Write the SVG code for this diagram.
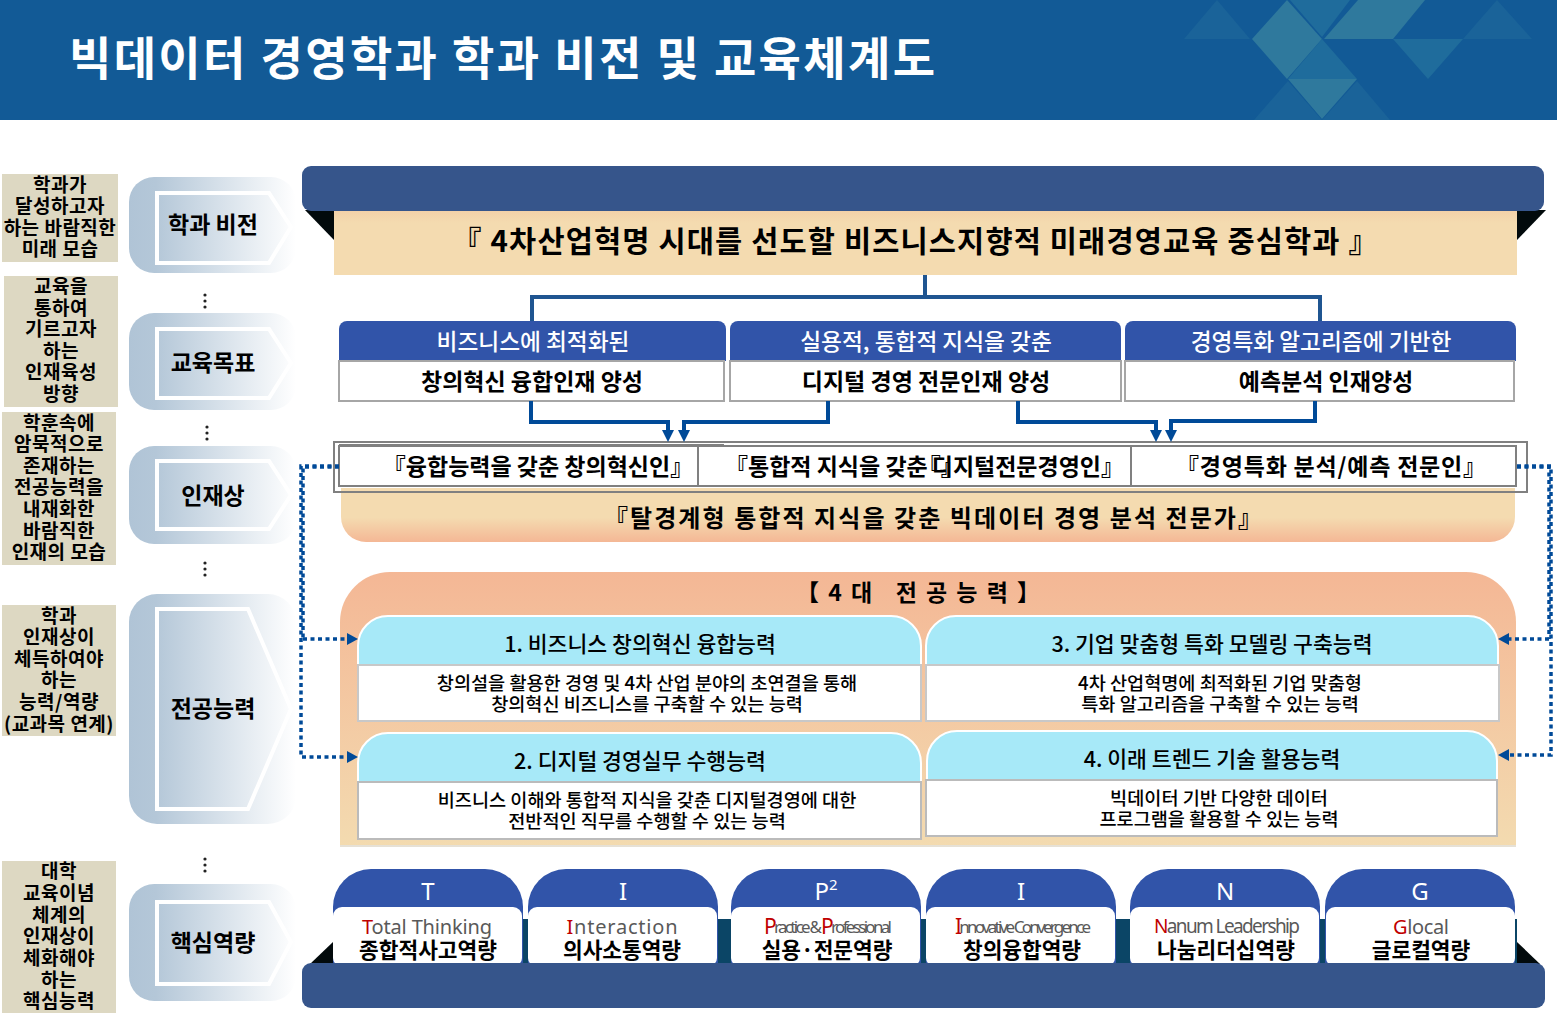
<svg xmlns="http://www.w3.org/2000/svg" width="1557" height="1027" viewBox="0 0 1557 1027">
<style>
text{font-family:"Noto Sans CJK KR","Noto Sans",sans-serif;text-anchor:middle;dominant-baseline:central;fill:#000}
.lb{font-size:19px;font-weight:600;letter-spacing:.5px}
.ch{font-size:23px;font-weight:600}
.hd{font-size:22.7px;font-weight:500;fill:#fff}
.sb{font-size:23px;font-weight:600}
.md{font-size:23px;font-weight:600}
.ct{font-size:21.6px;font-weight:500}
.bd{font-size:18.6px;font-weight:500}
.tl{font-size:24px;fill:#fff;font-family:"Noto Sans",sans-serif}
.en{font-size:20px;fill:#595959;font-family:"Noto Sans",sans-serif}
.en tspan{fill:#c00000}
.ti{font-size:17px}
.ti tspan{font-size:21px}
.ko{font-size:21.4px;font-weight:600}
.tan{fill:#ddd8c2}
.chev{fill:url(#gc)}
.pent{fill:none;stroke:#fff;stroke-width:4}
.tree{fill:none;stroke:#1f5591;stroke-width:4}
.solid{fill:none;stroke:#004a98;stroke-width:4}
.dot{fill:none;stroke:#004a98;stroke-width:3.5;stroke-dasharray:4 3.5}
.bar{fill:#36558b}
.blue{fill:#3154a9}
.box{fill:#fff;stroke:#a6a6a6;stroke-width:2}
.cyan{fill:#a7e9f8;stroke:#fff;stroke-width:2}
.wbox{fill:#fff;stroke:#c8c8c8;stroke-width:2}
.gbox{fill:#fff;stroke:#808080;stroke-width:2}
.arr{fill:#004a98}
.dots{fill:#222}
</style>
<defs>
<linearGradient id="gc"><stop offset="0" stop-color="#b0c4d6"/><stop offset=".16" stop-color="#b4c7d8"/><stop offset="1" stop-color="#fff"/></linearGradient>
<linearGradient id="gp" x1="0" y1="0" x2="0" y2="1"><stop offset="0" stop-color="#f4b795"/><stop offset="1" stop-color="#f3dbb0"/></linearGradient>
<linearGradient id="gt" x1="0" y1="0" x2="0" y2="1"><stop offset="0" stop-color="#f4dbb0"/><stop offset=".55" stop-color="#f4dbb0"/><stop offset="1" stop-color="#f4b795"/></linearGradient>
<linearGradient id="gv" x1="0" y1="0" x2="0" y2="1"><stop offset="0" stop-color="#f3d0a8"/><stop offset=".2" stop-color="#f4dbb0"/><stop offset="1" stop-color="#f4dbb0"/></linearGradient>
</defs>

<g id="header">
<rect width="1557" height="120" fill="#125a96"/>
<polygon points="1217,0 1184,39 1250,39" fill="#1a6399"/>
<polygon points="1497,0 1463,39 1532,39" fill="#1a6399"/>
<polygon points="1287,0 1252,39 1287,79 1322,39" fill="#2f799d"/>
<polygon points="1290,0 1350,0 1322,37" fill="#1f6c9c"/>
<polygon points="1358,0 1425,0 1393,39 1324,39" fill="#2f799d"/>
<polygon points="1393,39 1463,39 1428,79" fill="#1f6c9c"/>
<polygon points="1322,39 1357,79 1288,79" fill="#1f6c9c"/>
<polygon points="1288,79 1357,79 1322,119" fill="#2f799d"/>
<polygon points="1288,81 1254,120 1322,120" fill="#1a6399"/>
<polygon points="1357,81 1390,120 1322,120" fill="#1a6399"/>
<text x="502" y="54.5" font-size="46" font-weight="700" style="fill:#fff" textLength="866">빅데이터 경영학과 학과 비전 및 교육체계도</text>
</g>

<g id="label-1"><rect class="tan" x="2" y="174" width="116" height="88"/>
<text class="lb" x="60" y="183">학과가</text><text class="lb" x="60" y="204">달성하고자</text><text class="lb" x="60" y="226">하는 바람직한</text><text class="lb" x="60" y="247">미래 모습</text></g>
<g id="label-2"><rect class="tan" x="4" y="276" width="114" height="131"/>
<text class="lb" x="61" y="284">교육을</text><text class="lb" x="61" y="306">통하여</text><text class="lb" x="61" y="327">기르고자</text><text class="lb" x="61" y="349">하는</text><text class="lb" x="61" y="370">인재육성</text><text class="lb" x="61" y="392">방향</text></g>
<g id="label-3"><rect class="tan" x="2" y="412" width="114" height="153"/>
<text class="lb" x="59" y="421">학훈속에</text><text class="lb" x="59" y="442">암묵적으로</text><text class="lb" x="59" y="464">존재하는</text><text class="lb" x="59" y="485">전공능력을</text><text class="lb" x="59" y="507">내재화한</text><text class="lb" x="59" y="529">바람직한</text><text class="lb" x="59" y="550">인재의 모습</text></g>
<g id="label-4"><rect class="tan" x="2" y="605" width="114" height="131"/>
<text class="lb" x="59" y="614">학과</text><text class="lb" x="59" y="635">인재상이</text><text class="lb" x="59" y="657">체득하여야</text><text class="lb" x="59" y="678">하는</text><text class="lb" x="59" y="700">능력/역량</text><text class="lb" x="59" y="722">(교과목 연계)</text></g>
<g id="label-5"><rect class="tan" x="2" y="861" width="114" height="152"/>
<text class="lb" x="59" y="869">대학</text><text class="lb" x="59" y="891">교육이념</text><text class="lb" x="59" y="913">체계의</text><text class="lb" x="59" y="934">인재상이</text><text class="lb" x="59" y="956">체화해야</text><text class="lb" x="59" y="978">하는</text><text class="lb" x="59" y="999">핵심능력</text></g>

<g id="step-vision"><rect class="chev" x="129" y="177" width="167" height="96" rx="25"/><polygon class="pent" points="157,193 269,193 291,227 269,263 157,263"/><text class="ch" x="213" y="223">학과 비전</text></g>
<g id="step-goal"><rect class="chev" x="129" y="313" width="167" height="97" rx="25"/><polygon class="pent" points="157,329 269,329 291,363 269,398 157,398"/><text class="ch" x="213" y="361">교육목표</text></g>
<g id="step-talent"><rect class="chev" x="129" y="446" width="167" height="98" rx="25"/><polygon class="pent" points="157,461 269,461 291,495 269,529 157,529"/><text class="ch" x="213" y="494">인재상</text></g>
<g id="step-major"><rect class="chev" x="129" y="594" width="167" height="230" rx="28"/><polygon class="pent" points="157,609 248,609 291,709 248,809 157,809"/><text class="ch" x="213" y="707">전공능력</text></g>
<g id="step-core"><rect class="chev" x="129" y="884" width="167" height="117" rx="25"/><polygon class="pent" points="157,902 269,902 291,942 269,984 157,984"/><text class="ch" x="213" y="941">핵심역량</text></g>
<g id="ellipses" class="dots">
<circle cx="205" cy="295" r="1.6"/><circle cx="205" cy="301" r="1.6"/><circle cx="205" cy="307" r="1.6"/>
<circle cx="207" cy="427" r="1.6"/><circle cx="207" cy="433" r="1.6"/><circle cx="207" cy="439" r="1.6"/>
<circle cx="205" cy="563" r="1.6"/><circle cx="205" cy="569" r="1.6"/><circle cx="205" cy="575" r="1.6"/>
<circle cx="205" cy="859" r="1.6"/><circle cx="205" cy="865" r="1.6"/><circle cx="205" cy="871" r="1.6"/>
</g>

<g id="vision">
<polygon points="305,210 334,210 334,240" fill="#020a0c"/><polygon points="1517,210 1546,210 1517,240" fill="#020a0c"/>
<rect x="334" y="210" width="1183" height="65" fill="url(#gv)"/>
<rect class="bar" x="302" y="166" width="1242" height="45" rx="9"/>
<text x="915" y="239" font-size="29.5" font-weight="600" textLength="926">『 4차산업혁명 시대를 선도할 비즈니스지향적 미래경영교육 중심학과 』</text>
</g>

<g id="goal-1"><path class="blue" d="M339,361V329a8,8 0 0 1 8,-8H718a8,8 0 0 1 8,8V361Z"/><rect class="box" x="339" y="361" width="385" height="40"/>
<text class="hd" x="533" y="340">비즈니스에 최적화된</text><text class="sb" x="532" y="380">창의혁신 융합인재 양성</text></g>
<g id="goal-2"><path class="blue" d="M730,361V329a8,8 0 0 1 8,-8H1113a8,8 0 0 1 8,8V361Z"/><rect class="box" x="730" y="361" width="391" height="40"/>
<text class="hd" x="926" y="340">실용적, 통합적 지식을 갖춘</text><text class="sb" x="926" y="380">디지털 경영 전문인재 양성</text></g>
<g id="goal-3"><path class="blue" d="M1125,361V329a8,8 0 0 1 8,-8H1508a8,8 0 0 1 8,8V361Z"/><rect class="box" x="1125" y="361" width="389" height="40"/>
<text class="hd" x="1321" y="340">경영특화 알고리즘에 기반한</text><text class="sb" x="1326" y="380">예측분석 인재양성</text></g>

<g id="talent">
<path d="M341,488H1515V517a25,25 0 0 1 -25,25H366a25,25 0 0 1 -25,-25Z" fill="url(#gt)"/>
<rect class="gbox" x="334" y="442" width="1193" height="50" style="fill:none"/>
<rect class="gbox" x="339" y="446" width="1177" height="40"/>
<path d="M698,446V486M1131,446V486M339,445H724" fill="none" stroke="#808080" stroke-width="2"/>
<text class="md" x="538" y="465">『융합능력을 갖춘 창의혁신인』</text>
<text class="md" x="725" y="465" style="text-anchor:start">『통합적 지식을 갖춘<tspan dx="-10">『</tspan>』<tspan dx="-32">디지털전문경영인』</tspan></text>
<text class="md" x="1331" y="465" textLength="310">『경영특화 분석/예측 전문인』</text>
<text class="md" x="933" y="516" textLength="658" style="font-size:24px">『탈경계형 통합적 지식을 갖춘 빅데이터 경영 분석 전문가』</text>
</g>

<g id="panel">
<path d="M340,847V622a50,50 0 0 1 50,-50H1466a50,50 0 0 1 50,50V847Z" fill="url(#gp)"/>
<rect x="340" y="845" width="1176" height="2" fill="#e6e1d6"/>
<text x="918" y="591" font-size="23" font-weight="600" textLength="244">【4대  전공능력】</text>
</g>
<g id="ability-1"><path class="cyan" d="M358,665V646a30,30 0 0 1 30,-30H891a30,30 0 0 1 30,30V665Z"/><rect class="wbox" x="358" y="665" width="563" height="56"/>
<text class="ct" x="640" y="642">1. 비즈니스 창의혁신 융합능력</text><text class="bd" x="647" y="681">창의설을 활용한 경영 및 4차 산업 분야의 초연결을 통해</text><text class="bd" x="647" y="702">창의혁신 비즈니스를 구축할 수 있는 능력</text></g>
<g id="ability-3"><path class="cyan" d="M926,665V646a30,30 0 0 1 30,-30H1468a30,30 0 0 1 30,30V665Z"/><rect class="wbox" x="926" y="665" width="573" height="56"/>
<text class="ct" x="1212" y="642">3. 기업 맞춤형 특화 모델링 구축능력</text><text class="bd" x="1220" y="681">4차 산업혁명에 최적화된 기업 맞춤형</text><text class="bd" x="1220" y="702">특화 알고리즘을 구축할 수 있는 능력</text></g>
<g id="ability-2"><path class="cyan" d="M358,782V763a30,30 0 0 1 30,-30H891a30,30 0 0 1 30,30V782Z"/><rect class="wbox" x="358" y="782" width="563" height="57" style="stroke:#bbb"/>
<text class="ct" x="640" y="759">2. 디지털 경영실무 수행능력</text><text class="bd" x="647" y="798">비즈니스 이해와 통합적 지식을 갖춘 디지털경영에 대한</text><text class="bd" x="647" y="819">전반적인 직무를 수행할 수 있는 능력</text></g>
<g id="ability-4"><path class="cyan" d="M927,780V761a30,30 0 0 1 30,-30H1467a30,30 0 0 1 30,30V780Z"/><rect class="wbox" x="926" y="780" width="571" height="56" style="stroke:#bbb"/>
<text class="ct" x="1212" y="757">4. 이래 트렌드 기술 활용능력</text><text class="bd" x="1219" y="796">빅데이터 기반 다양한 데이터</text><text class="bd" x="1219" y="817">프로그램을 활용할 수 있는 능력</text></g>

<g id="connectors">
<path class="tree" d="M925,275V297M532,321V297H1320V321"/>
<path class="solid" d="M531,401V422H668V432M828,401V422H684V432M1018,401V422H1156V432M1315,401V421H1171V432"/>
<polygon class="arr" points="662,430 674,430 668,442"/><polygon class="arr" points="678,430 690,430 684,442"/>
<polygon class="arr" points="1150,430 1162,430 1156,442"/><polygon class="arr" points="1165,430 1177,430 1171,442"/>
<path class="dot" d="M339,466H301V757H348M303,639H348"/>
<path class="dot" d="M339,467H303V639"/>
<path class="dot" d="M1517,466H1551V755H1508M1549,639H1508"/>
<path class="dot" d="M1517,467H1549V639"/>
<polygon class="arr" points="347,633 358,639 347,645"/><polygon class="arr" points="347,751 358,757 347,763"/>
<polygon class="arr" points="1509,633 1498,639 1509,645"/><polygon class="arr" points="1509,749 1498,755 1509,761"/>
</g>

<g id="core-base">
<polygon points="333,942 333,964 310,964" fill="#020a0c"/><polygon points="1517,942 1517,964 1540,964" fill="#020a0c"/>
<rect x="333" y="919" width="1184" height="45" fill="#0b4566"/>
</g>
<g id="core-t"><path class="blue" d="M333,965V907a38,38 0 0 1 38,-38H485a38,38 0 0 1 38,38V965Z"/><rect x="333" y="907" width="189" height="60" rx="9" fill="#fff"/>
<text class="tl" x="428" y="890">T</text><text class="en" x="427" y="926" textLength="130"><tspan>T</tspan>otal Thinking</text><text class="ko" x="428" y="948">종합적사고역량</text></g>
<g id="core-i1"><path class="blue" d="M528,965V907a38,38 0 0 1 38,-38H680a38,38 0 0 1 38,38V965Z"/><rect x="528" y="907" width="189" height="60" rx="9" fill="#fff"/>
<text class="tl" x="623" y="890">I</text><text class="en" x="622" y="926" textLength="111"><tspan>I</tspan>nteraction</text><text class="ko" x="622" y="948">의사소통역량</text></g>
<g id="core-p"><path class="blue" d="M731,965V907a38,38 0 0 1 38,-38H883a38,38 0 0 1 38,38V965Z"/><rect x="731" y="907" width="189" height="60" rx="9" fill="#fff"/>
<text class="tl" x="826" y="890">P<tspan font-size="15" dy="-6">2</tspan></text><text class="en ti" x="828" y="926" textLength="128"><tspan>P</tspan>ractice &amp; <tspan>P</tspan>rofessional</text><text class="ko" x="827" y="948">실용·전문역량</text></g>
<g id="core-i2"><path class="blue" d="M926,965V907a38,38 0 0 1 38,-38H1078a38,38 0 0 1 38,38V965Z"/><rect x="926" y="907" width="189" height="60" rx="9" fill="#fff"/>
<text class="tl" x="1021" y="890">I</text><text class="en ti" x="1023" y="926" textLength="136"><tspan>I</tspan>nnovative Convergence</text><text class="ko" x="1022" y="948">창의융합역량</text></g>
<g id="core-n"><path class="blue" d="M1130,965V907a38,38 0 0 1 38,-38H1282a38,38 0 0 1 38,38V965Z"/><rect x="1130" y="907" width="189" height="60" rx="9" fill="#fff"/>
<text class="tl" x="1225" y="890">N</text><text class="en" x="1227" y="926" textLength="146" style="font-size:19px"><tspan>N</tspan>anum Leadership</text><text class="ko" x="1226" y="948">나눔리더십역량</text></g>
<g id="core-g"><path class="blue" d="M1325,965V907a38,38 0 0 1 38,-38H1477a38,38 0 0 1 38,38V965Z"/><rect x="1326" y="907" width="189" height="60" rx="9" fill="#fff"/>
<text class="tl" x="1420" y="890">G</text><text class="en" x="1421" y="926" textLength="56"><tspan>G</tspan>local</text><text class="ko" x="1421" y="948">글로컬역량</text></g>
<g id="core-bar"><rect class="bar" x="302" y="963" width="1243" height="45" rx="9"/></g>
</svg>
